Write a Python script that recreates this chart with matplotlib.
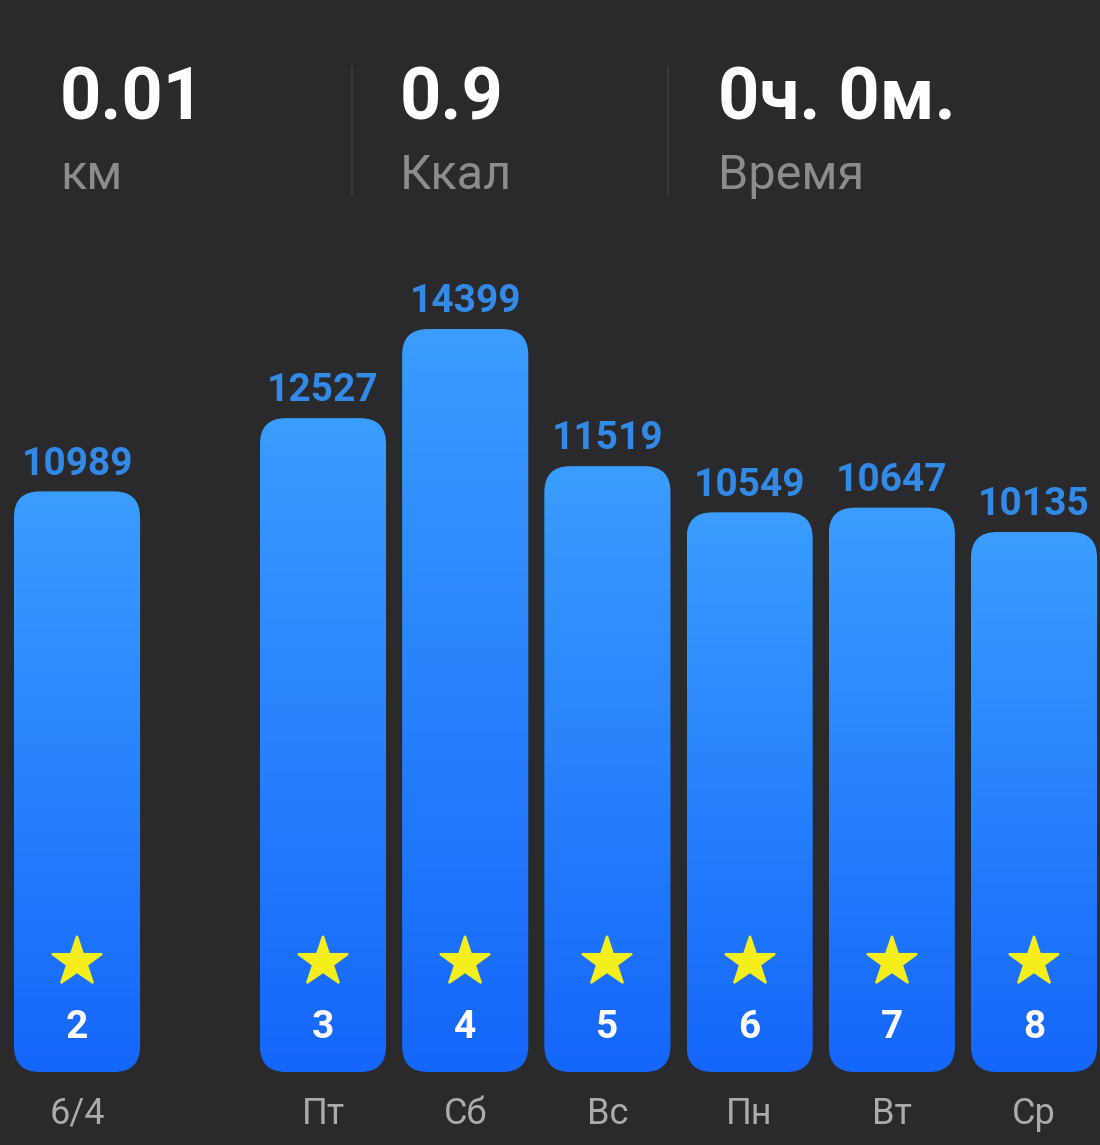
import numpy as np
import matplotlib
matplotlib.use("Agg")
import matplotlib.pyplot as plt
from matplotlib.patches import FancyBboxPatch
from matplotlib.lines import Line2D
from matplotlib.colors import LinearSegmentedColormap
from matplotlib.transforms import offset_copy

# --- data ---
day_labels = ["6/4", "Пт", "Сб", "Вс", "Пн", "Вт", "Ср"]
steps = [10989, 12527, 14399, 11519, 10549, 10647, 10135]
day_numbers = ["2", "3", "4", "5", "6", "7", "8"]

summary_values = ["0.01", "0.9", "0ч. 0м."]
summary_units = ["км", "Ккал", "Время"]

# --- style ---
BG = "#2a2a2c"
LABEL_BLUE = "#3289e6"
TOP_BLUE = "#3a9dff"
BOTTOM_BLUE = "#1566fa"
STAR = "#f6ee1c"
GRAY = "#8c8c8c"
DAY_GRAY = "#ababab"
plt.rcParams["font.family"] = ["Roboto", "DejaVu Sans"]

W, H = 1100, 1145
fig = plt.figure(figsize=(W / 100, H / 100), dpi=100, facecolor=BG)
ax = fig.add_axes([0, 0, 1, 1])
ax.set_facecolor(BG)
ax.axis("off")

# first bar sits apart from the week
xpos = np.array([0.0] + [1.73 + i for i in range(len(steps) - 1)])
bar_w = 0.887
base = -1207  # bars start a bit below zero (padding for star and number)

x0, x1 = -0.5415, 7.194
y0, y1 = -2740, 21310
ax.set_xlim(x0, x1)
ax.set_ylim(y0, y1)

xpp = (x1 - x0) / W
ypp = (y1 - y0) / H
radius_px = 26

cmap = LinearSegmentedColormap.from_list("bar", [BOTTOM_BLUE, TOP_BLUE])
grad = np.linspace(0, 1, 256).reshape(-1, 1)

for x, v in zip(xpos, steps):
    left = x - bar_w / 2
    patch = FancyBboxPatch((left, base), bar_w, v - base,
                           boxstyle=f"round,pad=0,rounding_size={radius_px * xpp}",
                           mutation_aspect=ypp / xpp,
                           facecolor="none", edgecolor="none")
    ax.add_patch(patch)
    im = ax.imshow(grad, cmap=cmap, origin="lower", aspect="auto",
                   extent=[left, left + bar_w, base, v], interpolation="bilinear")
    im.set_clip_path(patch)

    ax.annotate(f"{v}", (x, v), xytext=(0, 12), textcoords="offset points",
                ha="center", va="baseline", color=LABEL_BLUE,
                fontsize=28, fontweight="bold")

# star, day number and day label anchored to bar bottoms
star_tr = offset_copy(ax.transData, fig=fig, y=79, units="points")
ax.plot(xpos, [base] * len(xpos), linestyle="none", marker="*",
        markersize=38, color=STAR, markeredgecolor=STAR, markeredgewidth=1.5,
        markerfacecolor=STAR, transform=star_tr, zorder=5)

for x, num, lab in zip(xpos, day_numbers, day_labels):
    ax.annotate(num, (x, base), xytext=(0, 24.5), textcoords="offset points",
                ha="center", va="baseline", color="white",
                fontsize=28, fontweight="bold")
    ax.annotate(lab, (x, base), xytext=(0, -30), textcoords="offset points",
                ha="center", va="center", color=DAY_GRAY, fontsize=26)

# --- header ---
header_x = [60, 400, 718]
for hx, val, unit in zip(header_x, summary_values, summary_units):
    fig.text(hx / W, 1 - 120 / H, val, color="white", fontsize=52,
             fontweight="bold", ha="left", va="baseline")
    fig.text(hx / W, 1 - 189 / H, unit, color=GRAY, fontsize=35,
             ha="left", va="baseline")

for sx in [352, 668]:
    fig.add_artist(Line2D([sx / W, sx / W], [1 - 67 / H, 1 - 195 / H],
                          transform=fig.transFigure, color="#3a3a3c", linewidth=1.5))

fig.savefig("out.png", dpi=100, facecolor=BG)
